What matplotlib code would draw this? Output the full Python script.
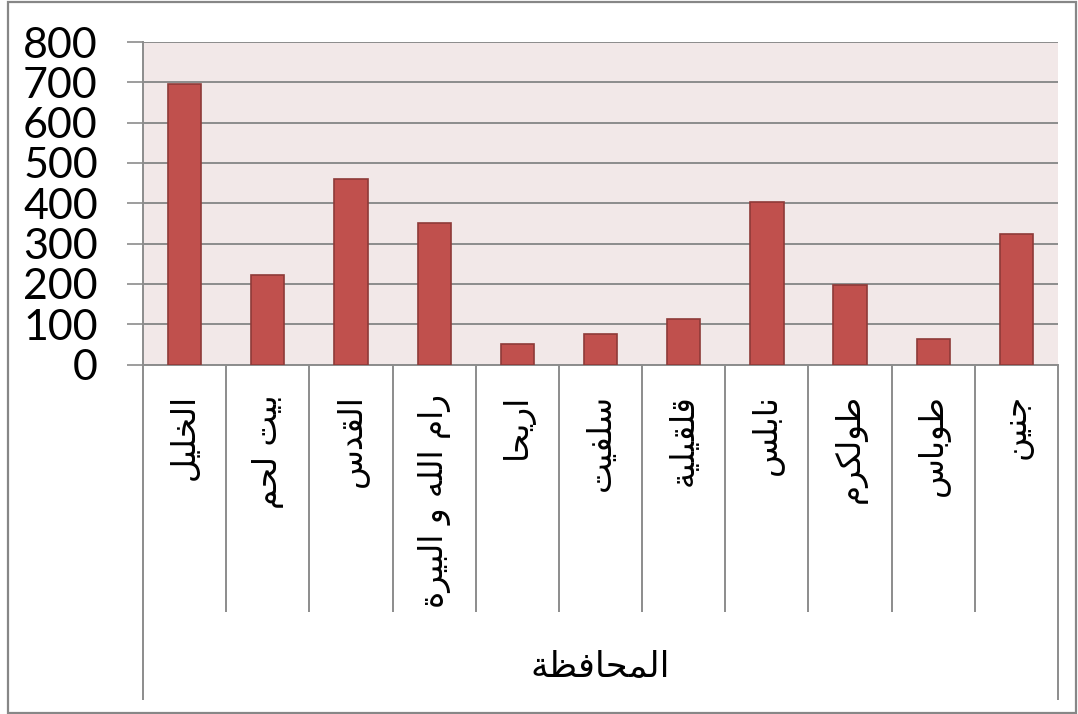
import matplotlib
matplotlib.use("Agg")
import matplotlib.pyplot as plt
from matplotlib.patches import Rectangle
import matplotlib.transforms as mtransforms

# ---------------- data ----------------
categories = ['الخليل', 'بيت لحم', 'القدس', 'رام الله و البيرة', 'اريحا', 'سلفيت',
              'قلقيلية', 'نابلس', 'طولكرم', 'طوباس', 'جنين']
values = [697, 222, 460, 352, 51, 75, 113, 403, 197, 63, 324]
group_label = 'المحافظة'
y_ticks = [0, 100, 200, 300, 400, 500, 600, 700, 800]

# ---------------- minimal Arabic shaping for display ----------------
FORMS = {
    'ا': (0xFE8D, 0xFE8E, None, None),
    'ب': (0xFE8F, 0xFE90, 0xFE91, 0xFE92),
    'ة': (0xFE93, 0xFE94, None, None),
    'ت': (0xFE95, 0xFE96, 0xFE97, 0xFE98),
    'ج': (0xFE9D, 0xFE9E, 0xFE9F, 0xFEA0),
    'ح': (0xFEA1, 0xFEA2, 0xFEA3, 0xFEA4),
    'خ': (0xFEA5, 0xFEA6, 0xFEA7, 0xFEA8),
    'د': (0xFEA9, 0xFEAA, None, None),
    'ر': (0xFEAD, 0xFEAE, None, None),
    'س': (0xFEB1, 0xFEB2, 0xFEB3, 0xFEB4),
    'ط': (0xFEC1, 0xFEC2, 0xFEC3, 0xFEC4),
    'ظ': (0xFEC5, 0xFEC6, 0xFEC7, 0xFEC8),
    'ف': (0xFED1, 0xFED2, 0xFED3, 0xFED4),
    'ق': (0xFED5, 0xFED6, 0xFED7, 0xFED8),
    'ك': (0xFED9, 0xFEDA, 0xFEDB, 0xFEDC),
    'ل': (0xFEDD, 0xFEDE, 0xFEDF, 0xFEE0),
    'م': (0xFEE1, 0xFEE2, 0xFEE3, 0xFEE4),
    'ن': (0xFEE5, 0xFEE6, 0xFEE7, 0xFEE8),
    'ه': (0xFEE9, 0xFEEA, 0xFEEB, 0xFEEC),
    'و': (0xFEED, 0xFEEE, None, None),
    'ي': (0xFEF1, 0xFEF2, 0xFEF3, 0xFEF4),
}


def dual(c):
    return c in FORMS and FORMS[c][2] is not None


def shape(text):
    out = []
    n = len(text)
    for i, c in enumerate(text):
        if c not in FORMS:
            out.append(c)
            continue
        prev = text[i - 1] if i > 0 else ''
        nxt = text[i + 1] if i < n - 1 else ''
        jp = dual(prev)
        jn = dual(c) and nxt in FORMS
        f = FORMS[c]
        if jp and jn:
            code = f[3]
        elif jp:
            code = f[1]
        elif jn:
            code = f[2]
        else:
            code = f[0]
        out.append(chr(code))
    return ''.join(reversed(out))


# ---------------- figure ----------------
W, H = 1078, 714
fig = plt.figure(figsize=(W / 100, H / 100), dpi=100)
fig.patch.set_facecolor('white')

left_px, right_px, top_px, bot_px = 143, 1058, 42, 364.5
ax = fig.add_axes([left_px / W, 1 - bot_px / H, (right_px - left_px) / W, (bot_px - top_px) / H])
ax.set_facecolor('#F2E8E8')

grid_c = '#8C8C8C'
x = list(range(len(categories)))
ax.bar(x, values, width=0.4, color='#C0504D', edgecolor='#8E3A38', linewidth=1.2, zorder=3)

ax.set_xlim(-0.5, len(categories) - 0.5)
ax.set_ylim(0, 800)
ax.set_yticks(y_ticks)
ax.set_yticklabels([str(v) for v in y_ticks], fontsize=31, family='Lato')
ax.yaxis.grid(True, color=grid_c, linewidth=1.4, zorder=1)
ax.set_axisbelow(True)
ax.tick_params(axis='y', direction='out', length=11.5, width=1.2, color=grid_c, pad=21)
ax.set_xticks([])
for s in ['top', 'right']:
    ax.spines[s].set_visible(False)
ax.spines['left'].set_color(grid_c)
ax.spines['left'].set_linewidth(1.4)
ax.spines['bottom'].set_color(grid_c)
ax.spines['bottom'].set_linewidth(1.4)

trans = mtransforms.blended_transform_factory(ax.transData, ax.transAxes)
h_ax = bot_px - top_px
y_sep = -(612 - bot_px) / h_ax
y_out = -(700 - bot_px) / h_ax

# category separators
for i in range(1, len(categories)):
    ax.plot([i - 0.5, i - 0.5], [0, y_sep], transform=trans, color=grid_c,
            linewidth=1.4, clip_on=False, solid_capstyle='butt')
# outer lines
for xx in [-0.5, len(categories) - 0.5]:
    ax.plot([xx, xx], [0, y_out], transform=trans, color=grid_c,
            linewidth=1.4, clip_on=False, solid_capstyle='butt')

# category labels
y_lab = -(394 - bot_px) / h_ax
for i, c in enumerate(categories):
    ax.text(i, y_lab, shape(c), transform=trans, rotation=90, ha='center', va='top',
            fontsize=23.5, family='DejaVu Sans', color='black')

# group label
ax.text(0.5, -(667 - bot_px) / h_ax, shape(group_label), transform=ax.transAxes,
        ha='center', va='center', fontsize=25.5, family='DejaVu Sans', color='black')

# figure border
fig.patches.append(Rectangle((8 / W, 1 / H), (1076 - 8) / W, (712 - 1) / H,
                             transform=fig.transFigure, fill=False,
                             edgecolor='#878787', linewidth=1.6))

fig.savefig('out.png', dpi=100)
